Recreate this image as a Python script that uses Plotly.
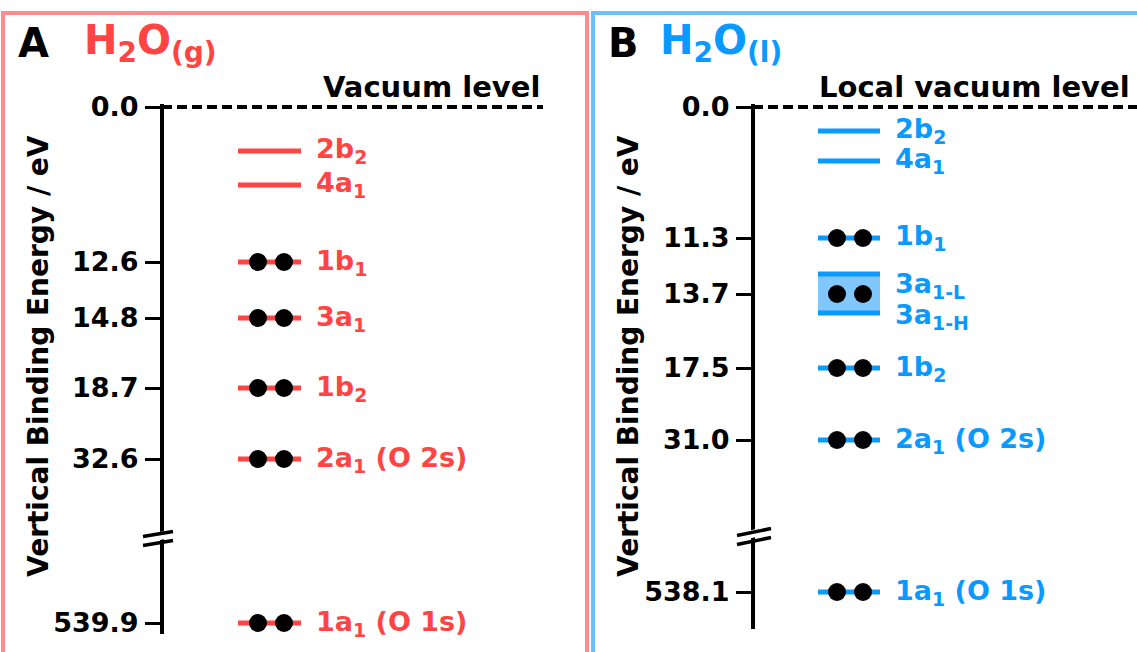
import plotly.graph_objects as go

# ---------------- data ----------------
VACUUM_ENERGY = 0.0

gas_orbitals = ["2b<sub>2</sub>", "4a<sub>1</sub>", "1b<sub>1</sub>", "3a<sub>1</sub>",
                "1b<sub>2</sub>", "2a<sub>1</sub> (O 2s)", "1a<sub>1</sub> (O 1s)"]
gas_binding_energy = [None, None, 12.6, 14.8, 18.7, 32.6, 539.9]   # None = unoccupied
# schematic (not-to-scale) depth of each level below the vacuum level
gas_level_depth = [44, 78, 155, 211, 281, 352, 516]

liq_orbitals = ["2b<sub>2</sub>", "4a<sub>1</sub>", "1b<sub>1</sub>", "3a<sub>1</sub>",
                "1b<sub>2</sub>", "2a<sub>1</sub> (O 2s)", "1a<sub>1</sub> (O 1s)"]
liq_binding_energy = [None, None, 11.3, 13.7, 17.5, 31.0, 538.1]
liq_level_depth = [24, 54, 131, 187, 261, 333, 485]
liq_3a1_band = [167, 206]
liq_3a1_labels = ["3a<sub>1-L</sub>", "3a<sub>1-H</sub>"]

W, H = 1137, 652
FONT = "DejaVu Sans"

panels = [
    dict(letter="A", species="H<sub>2</sub>O<sub>(g)</sub>", color="#FF4444", border="#FF8C8C",
         orbitals=gas_orbitals, energy=gas_binding_energy, depth=gas_level_depth, band=None,
         xa="x", ya="y", xdom=(0, 590), axis_x=162, lvl=(238, 301), dots=(258, 284), lab=314,
         vac_end=543, vac_text="Vacuum level", vac_right=542, bottom=527, brk=429,
         frame=(3, 587), letter_x=16, species_x=82, title_x=38, brk_x=(143, 173), brk_dy=5),
    dict(letter="B", species="H<sub>2</sub>O<sub>(l)</sub>", color="#0A9AFF", border="#6CBEFF",
         orbitals=liq_orbitals, energy=liq_binding_energy, depth=liq_level_depth, band=liq_3a1_band,
         xa="x2", ya="y2", xdom=(590, 1137), axis_x=753, lvl=(818, 880), dots=(837, 863), lab=893,
         vac_end=1137, vac_text="Local vacuum level", vac_right=1132, bottom=522, brk=427,
         frame=(593, 1150), letter_x=606, species_x=658, title_x=628, brk_x=(737, 771), brk_dy=7),
]

fig = go.Figure()
shapes, annos = [], []
TOP = 107  # pixel row of the vacuum level

for p in panels:
    xa, ya, c = p["xa"], p["ya"], p["color"]
    occ_depth = [d for d, e in zip(p["depth"], p["energy"]) if e is not None]
    occ_energy = [e for e in p["energy"] if e is not None]

    for i, (d, e) in enumerate(zip(p["depth"], p["energy"])):
        if p["band"] is not None and p["orbitals"][i].startswith("3a"):
            b0, b1 = p["band"]
            fig.add_trace(go.Scatter(x=[p["lvl"][0], p["lvl"][1], p["lvl"][1], p["lvl"][0], p["lvl"][0]],
                                     y=[b0, b0, b1, b1, b0], fill="toself", fillcolor="#80C6FF",
                                     line=dict(width=0), mode="lines", xaxis=xa, yaxis=ya,
                                     hoverinfo="skip", showlegend=False))
            for bd in (b0, b1):
                fig.add_trace(go.Scatter(x=list(p["lvl"]), y=[bd, bd], mode="lines",
                                         line=dict(color=c, width=5), xaxis=xa, yaxis=ya,
                                         hoverinfo="skip", showlegend=False))
            for lbl, ld in zip(liq_3a1_labels, (b0 + 11, b1 + 3)):
                annos.append(dict(x=p["lab"], y=ld, xref=xa, yref=ya, xanchor="left", yanchor="middle",
                                  text="<b>" + lbl + "</b>", showarrow=False,
                                  font=dict(family=FONT, size=27, color=c)))
        else:
            fig.add_trace(go.Scatter(x=list(p["lvl"]), y=[d, d], mode="lines",
                                     line=dict(color=c, width=5), xaxis=xa, yaxis=ya,
                                     hoverinfo="skip", showlegend=False))
            annos.append(dict(x=p["lab"], y=d, xref=xa, yref=ya, xanchor="left", yanchor="middle",
                              text="<b>" + p["orbitals"][i] + "</b>", showarrow=False,
                              font=dict(family=FONT, size=27, color=c)))
    dx, dy = [], []
    for d in occ_depth:
        dx += list(p["dots"])
        dy += [d, d]
    fig.add_trace(go.Scatter(x=dx, y=dy, mode="markers", marker=dict(size=18, color="black"),
                             xaxis=xa, yaxis=ya, hoverinfo="skip", showlegend=False))

    # vacuum dashed line
    fig.add_trace(go.Scatter(x=[p["axis_x"], p["vac_end"]], y=[0, 0], mode="lines",
                             line=dict(color="black", width=4, dash="10px,5px"),
                             xaxis=xa, yaxis=ya, hoverinfo="skip", showlegend=False))
    annos.append(dict(x=p["vac_right"] / W, y=1 - (TOP - 1) / H, xref="paper", yref="paper",
                      xanchor="right", yanchor="bottom", text="<b>" + p["vac_text"] + "</b>",
                      showarrow=False, font=dict(family=FONT, size=29, color="black")))

    # axis break marks
    x0, x1 = p["brk_x"]
    b, s = p["brk"], p["brk_dy"]
    shapes.append(dict(type="path", xref=xa, yref=ya,
                       path=f"M{x0+4},{b-1} L{x1-4},{b-1-s} L{x1-4},{b+7-s} L{x0+4},{b+7} Z",
                       fillcolor="white", line=dict(width=0), layer="above"))
    for yy in (b - 1, b + 8):
        shapes.append(dict(type="line", xref=xa, yref=ya, x0=x0, x1=x1, y0=yy + s / 2 - 1,
                           y1=yy - s / 2 - 1, line=dict(color="black", width=3.5), layer="above"))

    axis_num = "" if xa == "x" else "2"
    fig.update_layout(**{
        "xaxis" + axis_num: dict(domain=[p["xdom"][0] / W, p["xdom"][1] / W], range=list(p["xdom"]),
                                 visible=False, fixedrange=True),
        "yaxis" + axis_num: dict(domain=[1 - (TOP + p["bottom"]) / H, 1 - (TOP - 3) / H],
                                 range=[p["bottom"], -3], anchor="free", position=p["axis_x"] / W,
                                 showline=True, linewidth=4, linecolor="black", showgrid=False,
                                 zeroline=False, ticks="outside", ticklen=15, tickwidth=3,
                                 tickcolor="black", ticklabelstandoff=1, automargin=False,
                                 tickvals=[0] + occ_depth,
                                 ticktext=[f"{VACUUM_ENERGY:.1f}"] + [f"{e:.1f}" for e in occ_energy],
                                 tickfont=dict(family=FONT, size=27, color="black", weight="bold"),
                                 fixedrange=True),
    })

    shapes.append(dict(type="rect", xref="paper", yref="paper", x0=p["frame"][0] / W, x1=p["frame"][1] / W,
                       y0=-0.05, y1=1 - 13 / H, line=dict(color=p["border"], width=4), layer="below"))
    annos.append(dict(x=p["letter_x"] / W, y=1 - 43 / H, xref="paper", yref="paper", xanchor="left",
                      yanchor="middle", text="<b>" + p["letter"] + "</b>", showarrow=False,
                      font=dict(family=FONT, size=40, color="black")))
    annos.append(dict(x=p["species_x"] / W, y=1 - 43 / H, xref="paper", yref="paper", xanchor="left",
                      yanchor="middle", text="<b>" + p["species"] + "</b>", showarrow=False,
                      font=dict(family=FONT, size=40, color=c)))
    annos.append(dict(x=p["title_x"] / W, y=1 - 356 / H, xref="paper", yref="paper", xanchor="center",
                      yanchor="middle", textangle=-90, text="<b>Vertical Binding Energy / eV</b>",
                      showarrow=False, font=dict(family=FONT, size=28, color="black")))

fig.update_layout(width=W, height=H, margin=dict(l=0, r=0, t=0, b=0, autoexpand=False),
                  plot_bgcolor="white", paper_bgcolor="white",
                  shapes=shapes, annotations=annos, showlegend=False)
fig.write_html("out.html", config={"displayModeBar": False, "responsive": False},
               post_script="document.body.style.margin='0';")
